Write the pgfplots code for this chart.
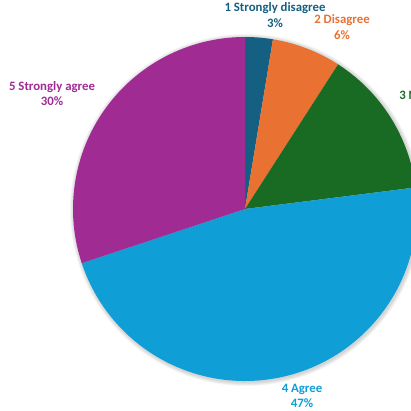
\documentclass[border=0pt]{standalone}
\usepackage{pgfplots}
\pgfplotsset{compat=1.18}
\usepackage{pgfplotstable}
\usepackage{fontspec}
\setmainfont{Carlito}
\definecolor{c1}{HTML}{156082}
\definecolor{c2}{HTML}{E97132}
\definecolor{c3}{HTML}{196B24}
\definecolor{c4}{HTML}{0F9ED5}
\definecolor{c5}{HTML}{A02B93}
\pgfplotstableread{
pct color
2.6 c1
6.5 c2
13.9 c3
46.9 c4
30.1 c5
}\piedata
\begin{document}
\begin{tikzpicture}
\clip (0,0) rectangle (411pt,410pt);
\begin{axis}[at={(0,0)},anchor=south west,scale only axis,width=411pt,height=410pt,
  xmin=0,xmax=411,ymin=0,ymax=410,hide axis,clip=false]
\pgfplotsforeachungrouped \k in {1,...,5}{%
  \pgfmathsetmacro\rr{172+\k*0.8}%
  \edef\cmd{\noexpand\fill[black,opacity=0.035] (axis cs:246,200) circle[radius=\rr pt];}%
  \cmd
}
\def\cum{0}
\pgfplotsforeachungrouped \i in {0,...,4}{%
  \pgfplotstablegetelem{\i}{pct}\of\piedata \let\p\pgfplotsretval
  \pgfplotstablegetelem{\i}{color}\of\piedata \let\col\pgfplotsretval
  \pgfmathsetmacro\a{90-3.6*\cum}%
  \pgfmathsetmacro\b{90-3.6*(\cum+\p)}%
  \edef\cmd{\noexpand\fill[\col] (axis cs:245,201) -- ++(\a:172pt) arc[start angle=\a, end angle=\b, radius=172pt] -- cycle;}%
  \cmd
  \pgfmathsetmacro\cum{\cum+\p}%
}
\tikzset{lab/.style={font=\fontsize{12.8}{15.5}\selectfont\bfseries,align=center,anchor=center}}
\node[lab,text=c1] at (axis cs:275,395) {1 Strongly disagree\\3\%};
\node[lab,text=c2] at (axis cs:342,383) {2 Disagree\\6\%};
\node[lab,text=c3] at (axis cs:424,307) {3 Neutral\\14\%};
\node[lab,text=c4] at (axis cs:302,14) {4 Agree\\47\%};
\node[lab,text=c5] at (axis cs:52,316.5) {5 Strongly agree\\30\%};
\end{axis}
\end{tikzpicture}
\end{document}
